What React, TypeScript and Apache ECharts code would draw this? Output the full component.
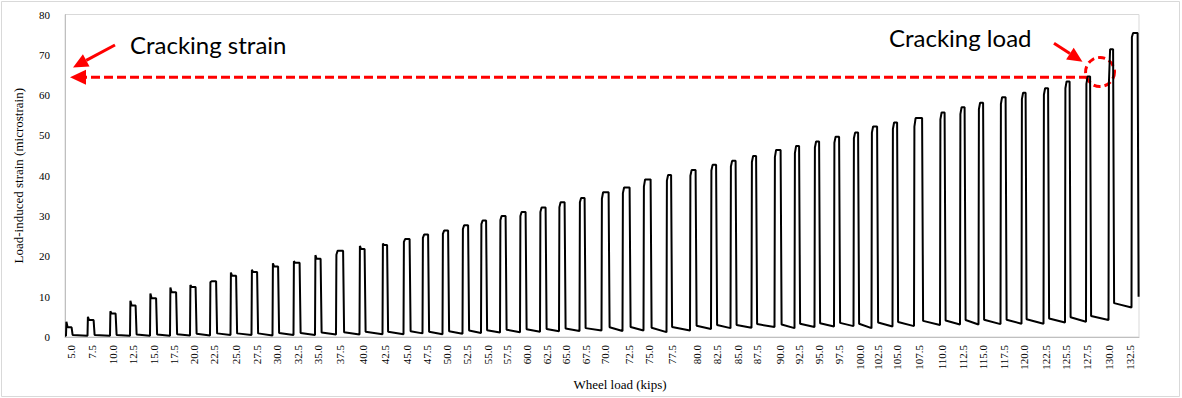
import React, { useEffect, useRef } from "react";
import * as echarts from "echarts";

// Tick labels of the wheel-load axis (as printed in the reference)
const loadLabels = [
  "5.0", "7.5", "10.0", "12.5", "15.0", "17.5", "20.0", "22.5", "25.0", "27.5",
  "30.0", "32.5", "35.0", "37.5", "40.0", "42.5", "45.0", "47.5", "50.0", "52.5",
  "55.0", "57.5", "60.0", "62.5", "65.0", "67.5", "70.0", "72.5", "75.0", "77.5",
  "80.0", "82.5", "85.0", "87.5", "90.0", "92.5", "95.0", "97.5", "100.0", "102.5",
  "105.0", "107.5", "110.0", "112.5", "115.0", "117.5", "120.0", "122.5", "125.5", "127.5",
  "130.0", "132.5",
];
// Sample index where each load label sits
const labelX = [
  6, 26.5, 47.5, 68, 88.5, 108.5, 128.5, 149, 170.5, 191.5,
  212, 232.5, 253, 275, 297.5, 319.5, 341.5, 361.5, 382, 402,
  422.5, 442, 462, 481.5, 501, 520.5, 540, 563.5, 584, 607,
  631.5, 652, 672.5, 692, 714.5, 734, 754, 774, 794.5, 812.5,
  832, 854, 877, 898, 918, 938.5, 958.5, 980.5, 1001, 1022,
  1043.5, 1064.5,
];
// Sample index of each load application (rise) and removal (fall)
const riseX = [
  1, 22.5, 45, 65, 85, 105, 125, 145, 165.5, 186.5,
  207.5, 228.5, 250, 271, 294.5, 317.5, 338.5, 357.5, 377.5, 397.5,
  416, 435, 455, 475, 494, 514.5, 536.5, 557.5, 578.5, 601.5,
  625, 646, 665.5, 686.5, 709.5, 729.5, 749.5, 769, 788.5, 806.5,
  827.5, 849, 875, 895, 913.5, 935.5, 956.5, 978.5, 1000, 1021,
  1043.5, 1066.5,
];
const fallX = [
  7, 29, 51, 71, 91.5, 111.5, 131, 151.5, 171.5, 192.5,
  213.5, 235, 256, 278.5, 300, 322.5, 345, 363.5, 383.5, 403.5,
  421.5, 441, 461, 481, 500, 520, 544, 565, 586, 606.5,
  631, 651.5, 671, 691.5, 716, 734.5, 754.5, 774.5, 793.5, 812.5,
  832.5, 857.5, 880, 900, 918.5, 941, 961, 983.5, 1005, 1025.5,
  1048.5, 1073,
];
// Strain right after loading (microstrain)
const spikeStrain = [
  3.8, 5.0, 6.4, 9.0, 10.8, 12.3, 12.9, 13.6, 16.0, 16.7,
  18.3, 18.8, 20.3, 20.4, 22.6, 23.2, 23.6, 24.6, 25.6, 26.8,
  28.0, 29.0, 30.0, 31.0, 32.2, 33.4, 34.3, 35.7, 37.3, 38.8,
  40.0, 41.3, 42.3, 43.4, 44.6, 45.6, 47.0, 48.2, 49.3, 50.7,
  51.6, 52.2, 54.0, 55.3, 56.5, 57.8, 59.0, 60.1, 61.7, 62.8,
  63.0, 74.4,
];
// Strain just before unloading (microstrain)
const holdStrain = [
  2.4, 4.2, 5.8, 7.8, 9.6, 11.1, 12.4, 13.8, 15.2, 16.1,
  17.5, 18.4, 19.4, 21.4, 21.8, 22.8, 24.3, 25.4, 26.4, 27.7,
  28.9, 30.0, 31.0, 32.1, 33.4, 34.5, 35.9, 37.1, 39.1, 40.2,
  41.4, 42.7, 43.7, 44.9, 46.4, 47.4, 48.5, 49.7, 50.7, 52.2,
  53.2, 54.3, 55.7, 57.0, 58.1, 59.5, 60.6, 61.7, 63.4, 64.6,
  71.4, 75.4,
];
// Residual strain after unloading: start and end of each rest period
const restStart = [
  0.5, 0.5, 0.5, 0.6, 0.6, 0.7, 0.8, 0.9, 0.9, 0.9,
  1.0, 1.0, 1.1, 1.2, 1.3, 1.3, 1.4, 1.3, 1.4, 1.6,
  1.7, 1.8, 1.9, 2.0, 2.1, 2.2, 2.4, 2.5, 2.3, 2.5,
  2.8, 3.0, 3.0, 3.2, 3.1, 3.3, 3.4, 3.5, 3.3, 3.6,
  3.7, 4.0, 4.1, 4.2, 4.3, 4.3, 4.4, 4.6, 4.9, 5.2,
  8.4, 10.0,
];
const restEnd = [
  0.3, 0.3, 0.3, 0.3, 0.3, 0.4, 0.4, 0.5, 0.5, 0.4,
  0.5, 0.5, 0.6, 0.6, 0.7, 0.7, 0.9, 0.7, 0.8, 1.0,
  1.1, 1.2, 1.3, 1.4, 1.5, 1.6, 1.5, 1.6, 1.2, 1.6,
  2.0, 2.2, 2.3, 2.5, 2.2, 2.5, 2.6, 2.7, 2.2, 2.6,
  2.7, 3.0, 3.1, 3.1, 3.2, 3.3, 3.3, 3.6, 3.8, 4.2,
  7.3, 10.0,
];
const yTicks = [0, 10, 20, 30, 40, 50, 60, 70, 80];
const initialStrain = 0.3;

const RED = "#ff0000";
const SERIF = "Liberation Serif";

function buildSeries(): [number, number][] {
  const pts: [number, number][] = [[0, initialStrain]];
  for (let i = 0; i < riseX.length; i++) {
    const before = i === 0 ? initialStrain : restEnd[i - 1];
    pts.push([riseX[i], before]);
    pts.push([riseX[i] + 0.4, spikeStrain[i]]);
    pts.push([riseX[i] + 1.6, holdStrain[i]]);
    pts.push([fallX[i] - 0.4, holdStrain[i]]);
    pts.push([fallX[i] + 0.6, restStart[i]]);
  }
  return pts;
}

function arrow(x1: number, y1: number, x2: number, y2: number, len: number, half: number, dashed = false) {
  const dx = x2 - x1, dy = y2 - y1;
  const L = Math.hypot(dx, dy);
  const ux = dx / L, uy = dy / L;
  const bx = x2 - ux * len, by = y2 - uy * len;
  const nx = -uy, ny = ux;
  return [
    {
      type: "line",
      shape: { x1, y1, x2: bx, y2: by },
      style: { stroke: RED, lineWidth: 3, lineDash: dashed ? [9, 4] : null },
      silent: true,
    },
    {
      type: "polygon",
      shape: { points: [[x2, y2], [bx + nx * half, by + ny * half], [bx - nx * half, by - ny * half]] },
      style: { fill: RED },
      silent: true,
    },
  ];
}

export default function App() {
  const ref = useRef<HTMLDivElement>(null);
  useEffect(() => {
    if (!ref.current) return;
    const chart = echarts.init(ref.current, null, { renderer: "svg" });
    const nearestLabel = (v: number) => {
      let best = 0;
      for (let i = 1; i < labelX.length; i++) {
        if (Math.abs(labelX[i] - v) < Math.abs(labelX[best] - v)) best = i;
      }
      return loadLabels[best];
    };
    chart.setOption({
      animation: false,
      grid: {
        left: 65, right: 43, top: 14.5, bottom: 61,
        show: true, borderColor: "#d9d9d9", borderWidth: 1,
      },
      xAxis: {
        type: "value",
        min: 0,
        max: 1074,
        name: "Wheel load (kips)",
        nameLocation: "middle",
        nameGap: 40,
        nameTextStyle: { fontFamily: SERIF, fontSize: 13, color: "#000", padding: [0, 0, 0, 36] },
        axisLine: { show: true, lineStyle: { color: "#bfbfbf" } },
        axisTick: { show: false },
        splitLine: { show: false },
        axisLabel: {
          customValues: labelX,
          rotate: 90,
          margin: 8,
          fontFamily: SERIF,
          fontSize: 11,
          color: "#000",
          formatter: (v: number) => nearestLabel(v),
        },
      },
      yAxis: {
        type: "value",
        min: yTicks[0],
        max: yTicks[yTicks.length - 1],
        interval: 10,
        name: "Load-induced strain (microstrain)",
        nameLocation: "middle",
        nameGap: 40,
        nameTextStyle: { fontFamily: SERIF, fontSize: 13, color: "#000" },
        axisLine: { show: true, lineStyle: { color: "#bfbfbf" } },
        axisTick: { show: false },
        splitLine: { show: false },
        axisLabel: { margin: 15, fontFamily: SERIF, fontSize: 11, color: "#000" },
      },
      series: [
        {
          type: "line",
          data: buildSeries(),
          showSymbol: false,
          symbol: "none",
          lineStyle: { color: "#000", width: 2 },
          clip: true,
        },
      ],
      graphic: [
        {
          type: "rect",
          shape: { x: 1.5, y: 1.5, width: 1178, height: 395 },
          style: { fill: "none", stroke: "#d9d9d9", lineWidth: 1 },
          silent: true,
        },
        {
          type: "text",
          style: { text: "Cracking strain", x: 130, y: 44, fontFamily: "Lato", fontSize: 24, fill: "#000", verticalAlign: "middle" },
          silent: true,
        },
        {
          type: "text",
          style: { text: "Cracking load", x: 889, y: 37, fontFamily: "Lato", fontSize: 24, fill: "#000", verticalAlign: "middle" },
          silent: true,
        },
        ...arrow(115, 45, 73, 67.5, 15, 7),
        ...arrow(1088, 77.3, 70, 77.3, 16, 7.5, true),
        ...arrow(1054, 43.3, 1082.5, 61.7, 15, 7),
        {
          type: "circle",
          shape: { cx: 1100, cy: 72, r: 14.5 },
          style: { fill: "none", stroke: RED, lineWidth: 3, lineDash: [7, 4] },
          silent: true,
        },
      ],
    });
    return () => chart.dispose();
  }, []);
  return (
    <div
      ref={ref}
      style={{ position: "fixed", left: 0, top: 0, width: 1182, height: 398, background: "#fff" }}
    />
  );
}
